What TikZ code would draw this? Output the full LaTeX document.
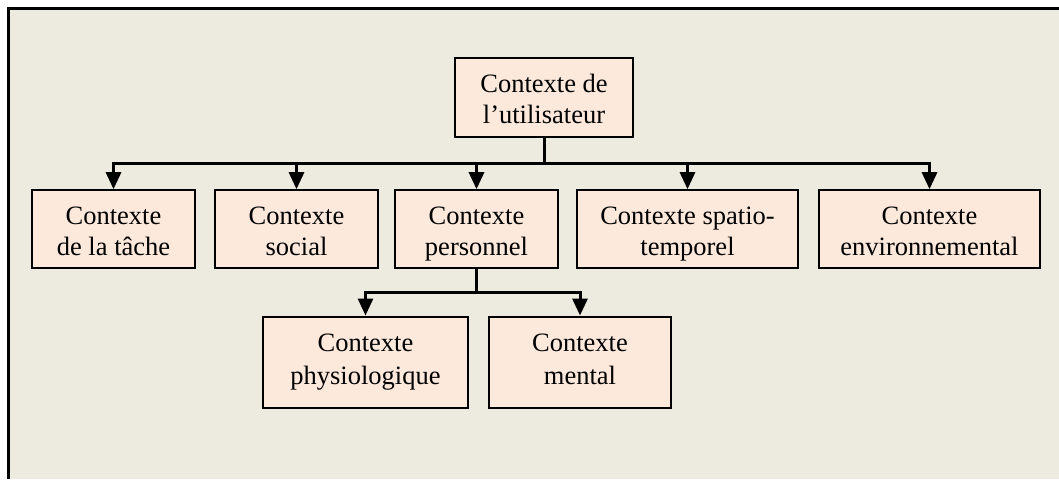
\documentclass[tikz,border=0pt]{standalone}
\usepackage{fontspec}
\setmainfont{Liberation Serif}
\usetikzlibrary{arrows.meta}
\definecolor{bgc}{HTML}{EDEAE0}
\definecolor{boxc}{HTML}{FCE9DC}
\newcommand{\lnA}[1]{\raisebox{0pt}[23pt][2pt]{#1}}
\newcommand{\lnB}[1]{\raisebox{0pt}[21pt][10pt]{#1}}
\tikzset{
  cbox/.style={draw=black, line width=2pt, fill=boxc, inner sep=0pt, align=center,
    font=\fontsize{26.5}{31}\selectfont},
  cboxlow/.style={cbox, font=\fontsize{26.5}{33}\selectfont},
  conn/.style={line width=3pt},
  arr/.style={line width=3pt, -{Triangle[width=15pt,length=17pt]}}
}
\begin{document}
\begin{tikzpicture}[x=1pt,y=-1pt]
\useasboundingbox (0,0) rectangle (1059,479);
\fill[bgc] (8,8) rectangle (1059,479);
\coordinate (frameTL) at (8,8);
\coordinate (frameTR) at (1059,8);
\coordinate (frameBL) at (8,479);
\draw[line width=3pt] (frameBL) -- (frameTL) -- (frameTR);

\node[cbox, minimum width=178pt, minimum height=79pt] (top) at (544,97.5) {\lnA{Contexte de}\\\lnA{l’utilisateur}};

\node[cbox, minimum width=163pt, minimum height=78pt] (tache) at (113.5,229.2) {\lnA{Contexte}\\\lnA{de la tâche}};
\node[cbox, minimum width=163pt, minimum height=78pt] (social) at (296.5,229.2) {\lnA{Contexte}\\\lnA{social}};
\node[cbox, minimum width=163pt, minimum height=78pt] (perso) at (476.5,229.2) {\lnA{Contexte}\\\lnA{personnel}};
\node[cbox, minimum width=221pt, minimum height=78pt] (spatio) at (687.5,229.2) {\lnA{Contexte spatio-}\\\lnA{temporel}};
\node[cbox, minimum width=221pt, minimum height=78pt] (env) at (929.5,229.2) {\lnA{Contexte}\\\lnA{environnemental}};

\node[cboxlow, minimum width=205pt, minimum height=91pt] (physio) at (365.5,362) {\lnB{Contexte}\\\lnB{physiologique}};
\node[cboxlow, minimum width=182pt, minimum height=91pt] (mental) at (580,362) {\lnB{Contexte}\\\lnB{mental}};

\coordinate (bus1) at (544,163);
\coordinate (bus2) at (476.5,292);

\draw[conn] (top.south) -- (bus1);
\draw[arr] (bus1) -| (tache.north);
\draw[arr] (bus1) -| (social.north);
\draw[arr] (bus1) -| (perso.north);
\draw[arr] (bus1) -| (spatio.north);
\draw[arr] (bus1) -| (env.north);

\draw[conn] (perso.south) -- (bus2);
\draw[arr] (bus2) -| (physio.north);
\draw[arr] (bus2) -| (mental.north);
\end{tikzpicture}
\end{document}
